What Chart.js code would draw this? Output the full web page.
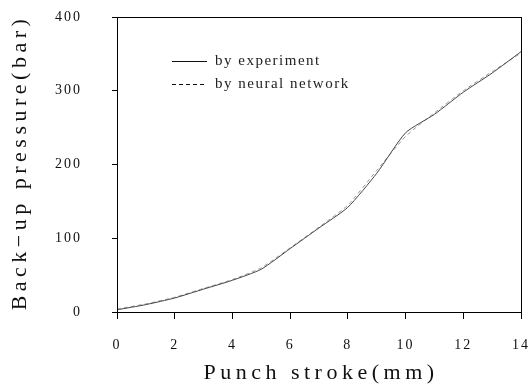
<!DOCTYPE html>
<html>
<head>
<meta charset="utf-8">
<script src="https://cdn.jsdelivr.net/npm/chart.js@4.4.1/dist/chart.umd.min.js"></script>
<style>
html, body { margin: 0; padding: 0; background: #fff; }
#wrap { width: 531px; height: 391px; }
</style>
</head>
<body>
<div id="wrap"><canvas id="pressureChart" width="531" height="391"></canvas></div>
<script>
// values
const strokeMm = [0, 1, 2, 3, 4, 5, 6, 7, 8, 9, 10, 11, 12, 13, 14];
const pressureExperiment = [3, 10, 19, 31, 43, 58, 86, 114, 142, 188, 243, 268, 298, 324, 353];
const pressureNeural = [4, 11, 20, 32, 44, 60, 87, 115, 145, 192, 238, 270, 300, 326, 351];
const xTicks = [0, 2, 4, 6, 8, 10, 12, 14];
const yTicks = [0, 100, 200, 300, 400];
const legendLabels = ['by experiment', 'by neural network'];
const xTitle = 'Punch stroke(mm)';
const yTitle = 'Back\u2212up pressure(bar)';

const serif = '"Liberation Serif", "DejaVu Serif", serif';
Chart.defaults.font.family = serif;
Chart.defaults.color = '#111';

function toPoints(xs, ys) {
    return xs.map((x, i) => ({ x: x, y: ys[i] }));
}

// box, legend and axis titles drawn by hand (the figure has them inside the plot)
const paperPlugin = {
    id: 'paper',
    beforeDraw(chart) {
        chart.ctx.letterSpacing = '2px';
    },
    afterDraw(chart) {
        const ctx = chart.ctx;
        const a = chart.chartArea;
        ctx.save();
        ctx.letterSpacing = '0px';
        ctx.strokeStyle = '#000';
        ctx.lineWidth = 1;
        ctx.setLineDash([]);
        ctx.strokeRect(Math.round(a.left) + 0.5, Math.round(a.top) + 0.5,
            Math.round(a.right - a.left), Math.round(a.bottom - a.top));

        // legend
        const lx = a.left + 55;
        const rows = [a.top + 44, a.top + 67];
        ctx.font = '15px ' + serif;
        ctx.letterSpacing = '1.5px';
        ctx.fillStyle = '#222';
        ctx.textAlign = 'left';
        ctx.textBaseline = 'middle';
        rows.forEach((y, i) => {
            const ds = chart.data.datasets[i];
            ctx.strokeStyle = '#111';
            ctx.lineWidth = 1;
            ctx.setLineDash(ds.borderDash || []);
            ctx.beginPath();
            ctx.moveTo(lx, Math.round(y) + 0.5);
            ctx.lineTo(lx + 35, Math.round(y) + 0.5);
            ctx.stroke();
            ctx.fillText(legendLabels[i], lx + 43, y);
        });
        ctx.setLineDash([]);

        // axis titles
        ctx.font = '22px ' + serif;
        ctx.letterSpacing = '4.5px';
        ctx.fillStyle = '#111';
        ctx.textAlign = 'center';
        ctx.textBaseline = 'middle';
        ctx.fillText(xTitle, (a.left + a.right) / 2 + 2, chart.height - 18);
        ctx.translate(20, (a.top + a.bottom) / 2);
        ctx.rotate(-Math.PI / 2);
        ctx.fillText(yTitle, 2, 0);
        ctx.restore();
        ctx.letterSpacing = '0px';
    }
};

const ctx = document.getElementById('pressureChart').getContext('2d');
const pressureChart = new Chart(ctx, {
    type: 'scatter',
    data: {
        datasets: [{
            label: legendLabels[0],
            data: toPoints(strokeMm, pressureExperiment),
            showLine: true,
            borderColor: '#444',
            borderWidth: 1,
            pointRadius: 0,
            tension: 0.2
        }, {
            label: legendLabels[1],
            data: toPoints(strokeMm, pressureNeural),
            showLine: true,
            borderColor: '#999',
            borderWidth: 1,
            borderDash: [4, 3],
            pointRadius: 0,
            tension: 0.2
        }]
    },
    options: {
        responsive: false,
        animation: false,
        devicePixelRatio: 1,
        layout: { padding: { left: 35, top: 17, right: 10, bottom: 0 } },
        plugins: {
            legend: { display: false },
            tooltip: { enabled: false }
        },
        scales: {
            x: {
                type: 'linear',
                min: 0,
                max: 14,
                afterBuildTicks: s => { s.ticks = xTicks.map(v => ({ value: v })); },
                afterFit: s => { s.height = 79; s.paddingLeft = 0; s.paddingRight = 0; },
                border: { display: false },
                grid: { drawOnChartArea: false, drawTicks: true, tickLength: 7, color: '#000' },
                ticks: { font: { size: 14 }, padding: 18, color: '#111', maxRotation: 0 }
            },
            y: {
                type: 'linear',
                min: 0,
                max: 400,
                afterBuildTicks: s => { s.ticks = yTicks.map(v => ({ value: v })); },
                afterFit: s => { s.width = 82; s.paddingTop = 0; s.paddingBottom = 0; },
                border: { display: false },
                grid: { drawOnChartArea: false, drawTicks: true, tickLength: 5, color: '#000' },
                ticks: { font: { size: 14 }, padding: 30, color: '#111' }
            }
        }
    },
    plugins: [paperPlugin]
});
</script>
</body>
</html>
